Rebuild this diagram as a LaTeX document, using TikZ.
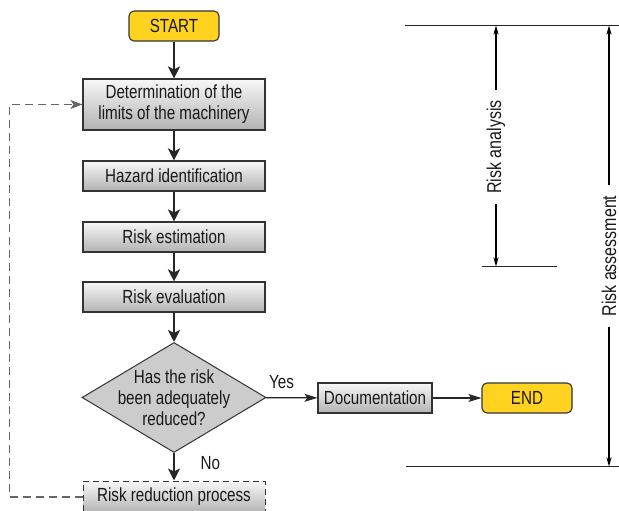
\documentclass[tikz,border=0pt]{standalone}
\usepackage{fontspec}
\setmainfont{Liberation Sans}[FakeStretch=0.8]
\usetikzlibrary{arrows.meta,shapes.geometric}
\definecolor{startyellow}{HTML}{FFD320}
\definecolor{boxline}{HTML}{333333}
\begin{document}
\begin{tikzpicture}[
    x=1pt, y=-1pt,
    font=\fontsize{19}{21}\selectfont,
    text=black!90,
    term/.style={rectangle, draw=boxline, fill=startyellow, rounded corners=5pt, minimum width=90pt, minimum height=30pt, line width=1.1pt},
    box/.style={rectangle, draw=boxline, top color=gray!6, bottom color=gray!60, minimum width=182pt, minimum height=30pt, align=center, line width=1.1pt, inner sep=2pt},
    decision/.style={diamond, draw=boxline, fill=gray!40, minimum width=184pt, minimum height=110pt, aspect=1.67, inner sep=-12pt, align=center, line width=1pt},
    flow/.style={-{Stealth[length=12pt,width=12pt,inset=3pt]}, line width=2.8pt, draw=black!85},
    link/.style={-{Stealth[length=13pt,width=8pt,inset=3pt]}, line width=1.2pt, draw=black!85},
    feedback/.style={-{Stealth[length=12pt,width=9pt,inset=3pt]}, line width=1.5pt, draw=black!60, dash pattern=on 8pt off 5pt},
    bracket/.style={-{Stealth[length=9pt,width=5pt,inset=2pt]}, line width=1.1pt},
    limit/.style={line width=1.2pt, draw=black!85},
    span/.style={rotate=90, inner sep=10pt, font=\fontsize{20}{22}\selectfont}
]
    \useasboundingbox (0,0) rectangle (619,511);

    % flow chart
    \node[term] (start) at (174,26) {START};
    \node[box, minimum height=51pt] (limits) at (174,104.5) {Determination of the\\limits of the machinery};
    \node[box] (hazard) at (174,176) {Hazard identification};
    \node[box] (estim) at (174,237) {Risk estimation};
    \node[box] (evalu) at (174,297) {Risk evaluation};
    \node[decision] (check) at (174,397.5) {Has the risk\\been adequately\\reduced?};
    \node[box, dash pattern=on 6pt off 4pt, line width=1pt, minimum height=32pt] (reduce) at (174,497) {Risk reduction process};
    \node[box, minimum width=114pt] (doc) at (375,398) {Documentation};
    \node[term] (end) at (527,398) {END};

    \draw[flow] (start) -- (limits);
    \draw[flow] (limits) -- (hazard);
    \draw[flow] (hazard) -- (estim);
    \draw[flow] (estim) -- (evalu);
    \draw[flow] (evalu) -- (check);
    \draw[flow] (check) -- node[right=22pt, pos=0.35] {No} (reduce);
    \draw[link] (check) -- node[above=5pt, pos=0.3] {Yes} (doc);
    \draw[link] (doc) -- (end);
    \draw[feedback] (reduce.west) -- ++(-73,0) |- (limits.west);

    % scope lines on the right
    \coordinate (topL) at (405,25.5);
    \coordinate (topR) at (619,25.5);
    \coordinate (midL) at (482,266.5);
    \coordinate (midR) at (557,266.5);
    \coordinate (botL) at (406,466.5);
    \coordinate (botR) at (619,466.5);
    \draw[limit] (topL) -- (topR);
    \draw[limit] (midL) -- (midR);
    \draw[limit] (botL) -- (botR);

    \node[span] (analysis) at (496,147) {Risk analysis};
    \node[span] (assess) at (609,256) {Risk assessment};
    \draw[bracket] (analysis.east) -- (analysis.east |- topL);
    \draw[bracket] (analysis.west) -- (analysis.west |- midL);
    \draw[bracket] (assess.east) -- (assess.east |- topL);
    \draw[bracket] (assess.west) -- (assess.west |- botL);
\end{tikzpicture}
\end{document}
